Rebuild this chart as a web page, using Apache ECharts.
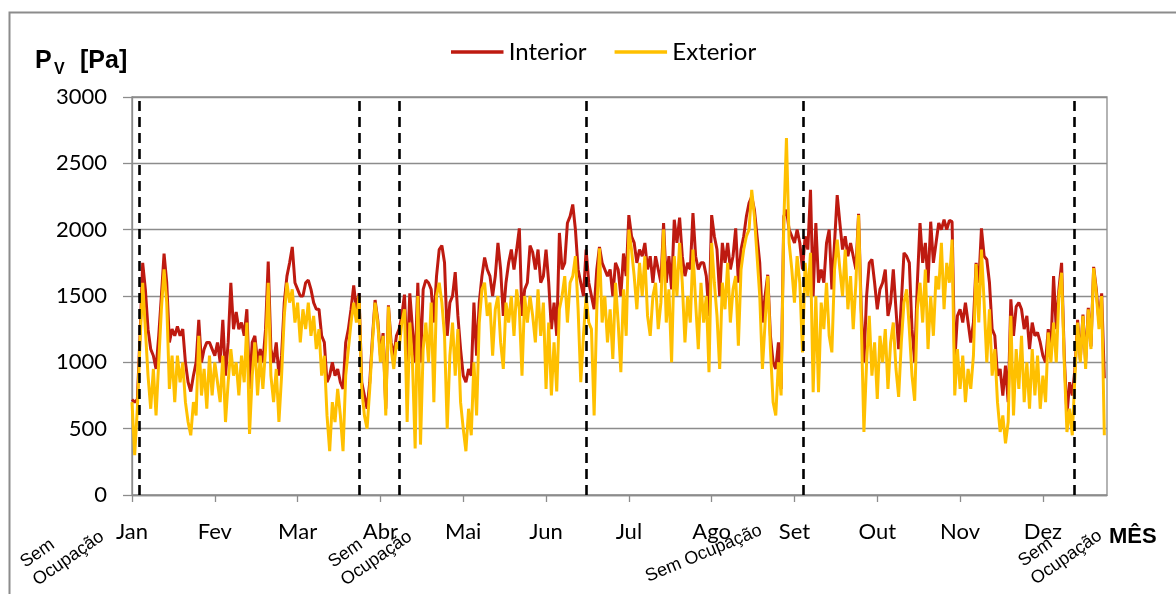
<!DOCTYPE html>
<html>
<head>
<meta charset="utf-8">
<script src="https://cdn.jsdelivr.net/npm/echarts@6/dist/echarts.min.js"></script>
<style>html,body{margin:0;padding:0;background:#fff}#c{width:1176px;height:594px}</style>
</head>
<body>
<div id="c"></div>
<script>
// Month tick labels (ticks every 31 days on a 365-day axis)
const months = ['Jan','Fev','Mar','Abr','Mai','Jun','Jul','Ago','Set','Out','Nov','Dez'];
// Day-of-year positions of the dashed "Sem Ocupação" boundaries
const offBounds = [2.6, 85, 100, 170.2, 251.4, 352.7];
// Daily vapour pressure, exterior [Pa] (day 0 = 1 Jan)
const exterior = [
700,300,650,1150,1600,1250,900,650,950,600,
1000,1400,1700,1450,800,1050,700,1050,850,1000,
700,550,450,700,600,1200,750,950,650,1050,
750,1000,850,700,1050,550,850,1100,900,1000,
750,1050,850,1300,460,900,1150,750,1050,800,
1100,1600,900,700,950,550,900,1350,1600,1450,
1550,1300,1450,1150,1400,1250,1450,1200,1350,1100,
1250,900,1050,600,330,700,550,800,600,330,
900,1100,1300,1450,1300,1500,800,600,500,800,
1150,1450,1300,1000,1200,600,1420,1100,950,1150,
1100,1300,1400,550,1300,1000,350,1500,380,1100,
1300,1000,1450,700,1500,1600,1450,1200,500,1050,
1300,900,1250,700,500,330,650,450,1000,600,
1300,1550,1600,1350,1450,1050,1400,1500,1150,950,
1450,1300,1500,1200,1550,1400,900,1500,1300,1500,
1350,1150,1550,1200,1450,800,1300,750,1150,780,
1400,1500,1650,1300,1600,1650,1800,1400,850,1200,
1500,1300,1250,600,1400,1860,1300,1500,1150,1400,
1025,1600,1300,925,1550,1200,2000,1850,1650,1400,
1750,1500,1800,1350,1200,1500,1600,1250,1450,2000,
1300,1550,1000,1800,1500,1900,1600,1150,1500,1300,
1850,1450,1100,1600,1300,1500,925,1900,1600,1350,
950,1600,1400,1750,1300,1550,1650,1125,1700,1850,
1950,2000,2300,2100,1800,1500,950,1300,1650,1100,
700,600,1000,750,2050,2690,1900,1700,1450,1800,
1600,1075,1750,1500,1825,775,1500,775,1450,1250,
1600,1200,1075,1700,1925,1700,1500,1850,1400,1650,
1250,1600,2110,1300,475,1000,1350,900,1150,725,
1200,1000,1250,800,1150,1300,950,740,1150,1450,
1550,1250,900,710,1400,1600,1300,1700,1100,1500,
1200,1650,1550,1900,1400,1750,1600,1925,750,1100,
800,1050,700,950,800,1050,1740,1300,1850,1450,
1000,1400,900,1100,700,475,600,390,550,1350,
600,1100,800,1200,700,1000,650,1100,750,1050,
650,900,700,1225,1000,1300,1000,1500,1675,1000,
475,650,450,900,1300,1000,1350,950,1400,1100,
1710,1520,1250,1500,450
];
// Daily vapour pressure, interior [Pa]
const interior = [
720,700,720,1200,1750,1550,1250,1100,1050,950,
1200,1500,1820,1600,1150,1250,1200,1270,1200,1250,
1000,850,780,900,1000,1320,1000,1100,1150,1150,
1100,1050,1150,1000,1320,900,1150,1600,1250,1380,
1250,1300,1200,1400,800,1150,1200,1000,1100,1000,
1250,1760,1100,1000,1150,900,1050,1450,1650,1750,
1870,1600,1550,1500,1500,1600,1620,1550,1450,1400,
1400,1200,1150,850,900,1000,900,950,850,800,
1150,1250,1400,1580,1400,1520,850,750,650,850,
1180,1470,1320,1050,1220,650,1430,1150,1050,1200,
1250,1350,1510,1000,1520,1250,1000,1600,1000,1550,
1620,1600,1550,1300,1650,1850,1880,1750,1200,1450,
1500,1680,1350,1100,900,850,950,900,1450,1050,
1450,1650,1790,1700,1650,1500,1650,1900,1700,1350,
1600,1750,1850,1700,1850,2010,1350,1550,1600,1880,
1830,1700,1850,1600,1650,1850,1600,1250,1450,1200,
1975,1700,1750,2050,2100,2190,2000,1700,1600,1500,
1850,1600,1500,1400,1700,1870,1750,1700,1650,1700,
1500,1750,1700,1500,1820,1650,2110,1950,1900,1750,
1850,1800,1900,1700,1800,1600,1800,1700,1600,2050,
1600,1800,1550,2075,1900,2090,1800,1650,1750,1700,
2125,1800,1700,1750,1750,1650,1350,2110,1950,1850,
1500,1900,1750,1900,1700,1800,2010,1600,1850,1950,
2100,2200,2250,2150,1950,1750,1300,1500,1660,1200,
1000,950,1150,800,2100,2150,2000,1950,1900,2000,
1900,1700,1950,1850,2300,1500,2050,1600,1700,1600,
1900,2000,1550,1900,2260,2050,1850,1950,1800,1900,
1800,1700,2120,1400,1000,1500,1750,1775,1600,1400,
1550,1600,1700,1350,1450,1700,1400,1100,1450,1825,
1800,1750,1250,1000,1600,2050,1750,1900,1600,2060,
1750,1900,2050,2000,2075,2000,2070,2060,1000,1350,
1400,1300,1450,1300,1150,1300,1750,1600,2010,1800,
1775,1600,1250,1200,900,950,750,975,700,1475,
1200,1420,1450,1400,1250,1350,1100,1300,1200,1225,
1150,1050,1000,1250,1100,1650,1250,1550,1750,1050,
600,850,750,950,1320,1020,1360,1000,1410,1120,
1720,1550,1300,1520,880
];

const toXY = arr => arr.map((v, i) => [i, v]);

const chart = echarts.init(document.getElementById('c'), null, {renderer: 'canvas'});
const tickFont = 'Lato, "Open Sans", sans-serif';
const lineIcon = 'path://M0,0 L60,0 L60,4 L0,4 Z';

chart.setOption({
  animation: false,
  backgroundColor: '#fff',
  grid: {left: 132, right: 69, top: 97, bottom: 99, show: true, borderColor: '#8c8c8c', borderWidth: 1.3},
  legend: {
    left: 446, top: 35, itemWidth: 53, itemHeight: 3.5, itemGap: 28,
    textStyle: {fontFamily: tickFont, fontSize: 24, color: '#000', padding: [0,0,0,0]},
    data: [{name: 'Interior', icon: lineIcon}, {name: 'Exterior', icon: lineIcon}]
  },
  xAxis: {
    type: 'value', min: 0, max: 365, interval: 31,
    axisLine: {show: true, lineStyle: {color: '#8c8c8c', width: 1.3}},
    axisTick: {show: true, length: 7, lineStyle: {color: '#8c8c8c', width: 1.3}},
    splitLine: {show: false},
    axisLabel: {
      showMaxLabel: false, margin: 26, color: '#000', fontFamily: tickFont, fontSize: 22,
      formatter: v => { const k = Math.round(v / 31); return (k >= 0 && k < months.length) ? months[k] : ''; }
    }
  },
  yAxis: {
    type: 'value', min: 0, max: 3000, interval: 500,
    axisLine: {show: true, lineStyle: {color: '#8c8c8c', width: 1.3}},
    axisTick: {show: true, length: 9, lineStyle: {color: '#8c8c8c', width: 1.3}},
    splitLine: {show: true, lineStyle: {color: '#8c8c8c', width: 1.3}},
    axisLabel: {margin: 25, color: '#000', fontFamily: tickFont, fontSize: 22, formatter: v => String(v)}
  },
  series: [
    {
      name: 'Interior', type: 'line', data: toXY(interior), symbol: 'none',
      lineStyle: {color: '#BE1A10', width: 3}, itemStyle: {color: '#BE1A10'}, z: 2
    },
    {
      name: 'Exterior', type: 'line', data: toXY(exterior), symbol: 'none',
      lineStyle: {color: '#FFC000', width: 3}, itemStyle: {color: '#FFC000'}, z: 3,
      markLine: {
        silent: true, symbol: 'none', label: {show: false},
        lineStyle: {color: '#000', type: [10, 6], width: 2.6},
        data: offBounds.map(d => ({xAxis: d}))
      }
    }
  ],
  graphic: [
    {type: 'rect', left: 7, top: 10, z: -10, silent: true,
     shape: {width: 1300, height: 700}, style: {fill: 'none', stroke: '#8c8c8c', lineWidth: 2}},
    {type: 'text', x: 35, y: 61, style: {text: 'P', font: 'bold 25px "Liberation Sans", Arial, sans-serif', fill: '#000', verticalAlign: 'middle'}},
    {type: 'text', x: 54, y: 70, style: {text: 'V', font: 'bold 16px "Liberation Sans", Arial, sans-serif', fill: '#000', verticalAlign: 'middle'}},
    {type: 'text', x: 80, y: 61, style: {text: '[Pa]', font: 'bold 25px "Liberation Sans", Arial, sans-serif', fill: '#000', verticalAlign: 'middle'}},
    {type: 'text', x: 1109, y: 537, style: {text: 'MÊS', font: 'bold 22px "Liberation Sans", Arial, sans-serif', fill: '#000', verticalAlign: 'middle'}},
    {type: 'text', x: 16, y: 555, rotation: 35 * Math.PI / 180, style: {text: 'Sem\nOcupação', font: '18px "Liberation Sans", Arial, sans-serif', fill: '#000', lineHeight: 22, align: 'left', verticalAlign: 'top'}},
    {type: 'text', x: 324, y: 555, rotation: 35 * Math.PI / 180, style: {text: 'Sem\nOcupação', font: '18px "Liberation Sans", Arial, sans-serif', fill: '#000', lineHeight: 22, align: 'left', verticalAlign: 'top'}},
    {type: 'text', x: 643, y: 569, rotation: 22.6 * Math.PI / 180, style: {text: 'Sem Ocupação', font: '18px "Liberation Sans", Arial, sans-serif', fill: '#000', align: 'left', verticalAlign: 'top'}},
    {type: 'text', x: 1014, y: 554, rotation: 35 * Math.PI / 180, style: {text: 'Sem\nOcupação', font: '18px "Liberation Sans", Arial, sans-serif', fill: '#000', lineHeight: 22, align: 'left', verticalAlign: 'top'}}
  ]
});
</script>
</body>
</html>
